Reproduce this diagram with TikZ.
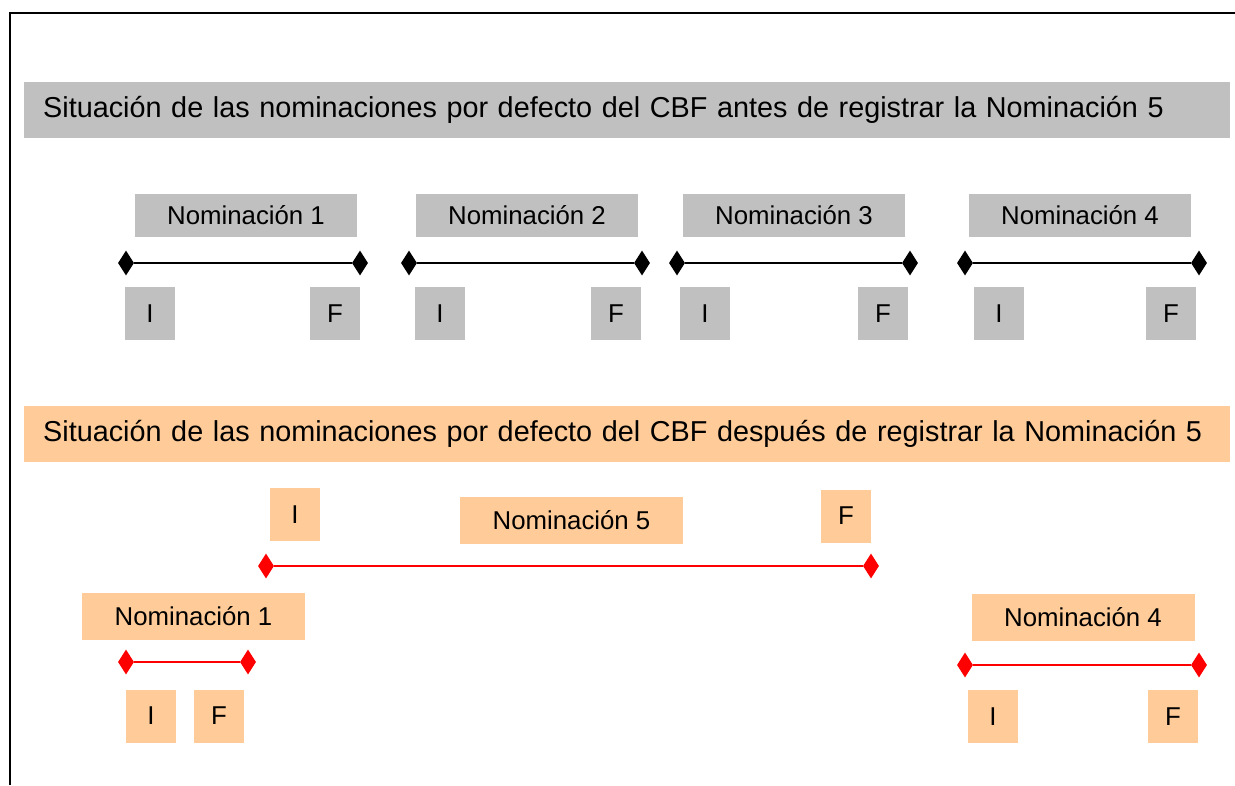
\documentclass[tikz,border=0pt]{standalone}
\usepackage{fontspec}
\setmainfont{Liberation Sans}
\usetikzlibrary{shapes.geometric}
\definecolor{boxgray}{HTML}{C0C0C0}
\definecolor{boxorange}{HTML}{FFCC99}
\begin{document}
\begin{tikzpicture}[x=1pt,y=-1pt,
  every node/.style={font=\fontsize{25.8}{30}\selectfont},
  banner/.style={anchor=west, minimum height=56, inner xsep=19, inner ysep=0, text width=1168, align=left, font=\fontsize{28.8}{32}\selectfont},
  nom/.style={minimum width=222, minimum height=43, inner sep=0},
  nomb/.style={minimum width=223, minimum height=47, inner sep=0},
  lbl/.style={minimum width=50, minimum height=53, inner sep=0},
  tipk/.style={diamond, fill=black, minimum width=16, minimum height=25, inner sep=0},
  tipr/.style={diamond, fill=red, minimum width=16, minimum height=25, inner sep=0},
  lnk/.style={line width=2.6pt, black},
  lnr/.style={line width=2.8pt, red}]
\useasboundingbox (0,0) rectangle (1235,785);
\coordinate (fa) at (10,785);
\coordinate (fb) at (10,13);
\coordinate (fc) at (1235,13);
\draw[line width=1.5pt] (fa) -- (fb) -- (fc);

% top banner
\node[banner, fill=boxgray] (b1) at (24,110) {Situación de las nominaciones por defecto del CBF antes de registrar la Nominación 5};

% top row
\node[nom, fill=boxgray] (n1) at (246,215.5) {Nominación 1};
\node[nom, fill=boxgray] (n2) at (527,215.5) {Nominación 2};
\node[nom, fill=boxgray] (n3) at (794,215.5) {Nominación 3};
\node[nom, fill=boxgray] (n4) at (1080,215.5) {Nominación 4};

\node[tipk] (d1a) at (126,263) {};
\node[tipk] (d1b) at (360,263) {};
\node[tipk] (d2a) at (409,263) {};
\node[tipk] (d2b) at (642,263) {};
\node[tipk] (d3a) at (677,263) {};
\node[tipk] (d3b) at (910,263) {};
\node[tipk] (d4a) at (965,263) {};
\node[tipk] (d4b) at (1199,263) {};
\draw[lnk] (d1a) -- (d1b);
\draw[lnk] (d2a) -- (d2b);
\draw[lnk] (d3a) -- (d3b);
\draw[lnk] (d4a) -- (d4b);

\node[lbl, fill=boxgray] (i1) at (150,313.5) {I};
\node[lbl, fill=boxgray] (f1) at (335,313.5) {F};
\node[lbl, fill=boxgray] (i2) at (440,313.5) {I};
\node[lbl, fill=boxgray] (f2) at (616,313.5) {F};
\node[lbl, fill=boxgray] (i3) at (705,313.5) {I};
\node[lbl, fill=boxgray] (f3) at (883,313.5) {F};
\node[lbl, fill=boxgray] (i4) at (999,313.5) {I};
\node[lbl, fill=boxgray] (f4) at (1171,313.5) {F};

% bottom banner
\node[banner, fill=boxorange] (b2) at (24,433.5) {Situación de las nominaciones por defecto del CBF después de registrar la Nominación 5};

% nomination 5
\node[nomb, fill=boxorange] (n5) at (571.5,520.5) {Nominación 5};
\node[lbl, fill=boxorange] (i5) at (295,514.5) {I};
\node[lbl, fill=boxorange] (f5) at (846,516) {F};
\node[tipr] (d5a) at (266,566) {};
\node[tipr] (d5b) at (871,566) {};
\draw[lnr] (d5a) -- (d5b);

% nomination 1 after
\node[nomb, fill=boxorange] (m1) at (193.5,616.5) {Nominación 1};
\node[tipr] (e1a) at (126,662) {};
\node[tipr] (e1b) at (248,662) {};
\draw[lnr] (e1a) -- (e1b);
\node[lbl, fill=boxorange] (j1) at (151,716) {I};
\node[lbl, fill=boxorange] (g1) at (219,716) {F};

% nomination 4 after
\node[nomb, fill=boxorange] (m4) at (1083,617) {Nominación 4};
\node[tipr] (e4a) at (965,665) {};
\node[tipr] (e4b) at (1199,665) {};
\draw[lnr] (e4a) -- (e4b);
\node[lbl, fill=boxorange] (j4) at (993,716.5) {I};
\node[lbl, fill=boxorange] (g4) at (1173,716.5) {F};
\end{tikzpicture}
\end{document}
